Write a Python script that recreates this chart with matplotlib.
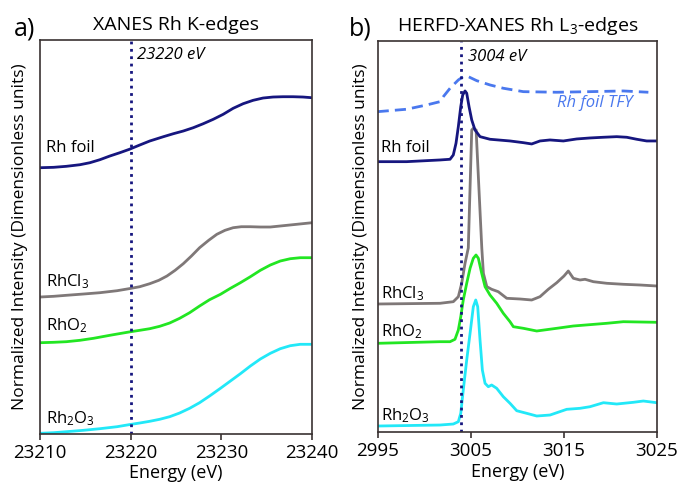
import numpy as np
import matplotlib.pyplot as plt

plt.rcParams['font.family'] = ['Open Sans', 'DejaVu Sans']
plt.rcParams['mathtext.fontset'] = 'custom'
plt.rcParams['mathtext.rm'] = 'Open Sans'
plt.rcParams['mathtext.it'] = 'Open Sans:italic'

# ---- panel a: Rh K-edge XANES (offset intensities, arbitrary units) ----
k_foil_e = [23210, 23211.5, 23212.9, 23214.4, 23215.5, 23216.6, 23217.7, 23218.8, 23219.85,
            23221.0, 23222.1, 23223.6, 23224.7, 23225.8, 23226.9, 23228.0, 23229.1, 23230.2,
            23231.3, 23232.4, 23233.5, 23234.6, 23235.7, 23236.8, 23237.9, 23239.0, 23240]
k_foil_y = [2.663, 2.667, 2.677, 2.693, 2.713, 2.743, 2.780, 2.813, 2.847, 2.890, 2.930, 2.973,
            3.003, 3.030, 3.063, 3.103, 3.147, 3.197, 3.257, 3.303, 3.337, 3.360, 3.370, 3.373,
            3.373, 3.370, 3.363]

k_cl_e = [23210, 23211.5, 23212.9, 23214.8, 23216.6, 23218.5, 23219.8, 23221.0, 23222.1,
          23223.1, 23224.0, 23224.9, 23225.8, 23226.7, 23227.6, 23228.6, 23229.5, 23230.4,
          23231.3, 23232.2, 23233.2, 23234.3, 23235.4, 23236.8, 23238.3, 23240]
k_cl_y = [1.370, 1.377, 1.387, 1.400, 1.413, 1.433, 1.453, 1.473, 1.503, 1.537, 1.580, 1.637,
          1.703, 1.780, 1.863, 1.937, 1.997, 2.037, 2.063, 2.073, 2.073, 2.070, 2.070, 2.083,
          2.097, 2.113]

k_o2_e = [23210, 23211.5, 23212.9, 23214.4, 23215.9, 23217.7, 23219.8, 23221.0, 23222.1,
          23223.2, 23224.3, 23225.4, 23226.5, 23227.6, 23228.7, 23229.9, 23231.0, 23232.1,
          23233.2, 23234.3, 23235.4, 23236.5, 23237.6, 23238.7, 23240]
k_o2_y = [0.913, 0.917, 0.923, 0.937, 0.957, 0.987, 1.020, 1.037, 1.053, 1.077, 1.110, 1.157,
          1.213, 1.280, 1.343, 1.397, 1.457, 1.513, 1.573, 1.637, 1.690, 1.730, 1.753, 1.763, 1.763]

k_o3_e = [23210, 23211.5, 23212.9, 23214.8, 23216.6, 23218.5, 23219.8, 23221.0, 23222.1,
          23223.2, 23224.3, 23225.4, 23226.5, 23227.6, 23228.7, 23229.9, 23231.0, 23232.1,
          23233.2, 23234.3, 23235.4, 23236.5, 23237.6, 23238.7, 23240]
k_o3_y = [0.007, 0.013, 0.023, 0.037, 0.053, 0.073, 0.093, 0.110, 0.127, 0.147, 0.173, 0.210,
          0.257, 0.313, 0.380, 0.457, 0.530, 0.603, 0.680, 0.750, 0.807, 0.853, 0.883, 0.897, 0.897]

# ---- panel b: Rh L3-edge HERFD-XANES ----
tfy_e = [2995, 2998.1, 3000.26, 3001.69, 3002.05, 3002.77, 3003.66, 3004.19, 3004.73, 3005.63,
         3007.06, 3008.49, 3010.64, 3014.23, 3017.80, 3021.38, 3024.07]
tfy_y = [3.203, 3.227, 3.270, 3.303, 3.353, 3.437, 3.520, 3.553, 3.553, 3.513, 3.470, 3.437,
         3.403, 3.397, 3.403, 3.410, 3.397]

l_foil_e = [2995, 2998.1, 3001.69, 3002.77, 3003.12, 3003.41, 3003.66, 3003.92, 3004.13, 3004.38,
            3004.56, 3004.81, 3005.10, 3005.45, 3005.99, 3007.06, 3009.21, 3010.64, 3011.54,
            3012.43, 3013.50, 3014.94, 3016.37, 3017.80, 3019.23, 3020.67, 3021.75, 3022.82,
            3023.89, 3024.97]
l_foil_y = [2.703, 2.703, 2.720, 2.727, 2.770, 2.887, 3.053, 3.253, 3.370, 3.410, 3.387, 3.253,
            3.120, 3.020, 2.953, 2.927, 2.910, 2.893, 2.880, 2.910, 2.920, 2.910, 2.930, 2.940,
            2.947, 2.953, 2.947, 2.927, 2.910, 2.910]

l_cl_e = [2995, 3001.69, 3003.12, 3003.66, 3004.02, 3004.38, 3004.73, 3005.10, 3005.28, 3005.57,
          3006.18, 3006.35, 3006.72, 3007.24, 3007.95, 3008.86, 3010.28, 3011.54, 3012.43,
          3013.32, 3014.23, 3015.01, 3015.47, 3016.01, 3016.73, 3017.27, 3018.16, 3019.60,
          3021.38, 3023.17, 3024.97]
l_cl_y = [1.280, 1.287, 1.303, 1.353, 1.487, 1.687, 1.840, 3.020, 3.037, 3.020, 1.840, 1.587,
          1.453, 1.427, 1.403, 1.337, 1.330, 1.320, 1.353, 1.427, 1.493, 1.560, 1.610, 1.537,
          1.520, 1.527, 1.503, 1.487, 1.477, 1.470, 1.460]

l_o2_e = [2995, 3001.69, 3002.77, 3003.30, 3003.66, 3003.92, 3004.19, 3004.56, 3004.92, 3005.27,
          3005.56, 3005.81, 3006.17, 3006.53, 3007.06, 3007.78, 3008.49, 3009.21, 3009.57,
          3010.64, 3012.08, 3014.23, 3016.01, 3019.60, 3021.38, 3024.97]
l_o2_y = [0.887, 0.903, 0.903, 0.927, 1.020, 1.153, 1.320, 1.487, 1.637, 1.737, 1.770, 1.737,
          1.587, 1.453, 1.370, 1.287, 1.187, 1.103, 1.053, 1.037, 1.010, 1.037, 1.060, 1.087,
          1.103, 1.097]

l_o3_e = [2995, 3001.69, 3003.12, 3003.66, 3003.92, 3004.19, 3004.56, 3004.92, 3005.27, 3005.53,
          3005.74, 3005.99, 3006.24, 3006.53, 3006.88, 3007.24, 3007.78, 3008.49, 3009.21,
          3009.93, 3011.0, 3012.08, 3013.51, 3015.3, 3016.73, 3017.80, 3019.24, 3020.67,
          3022.45, 3023.53, 3024.97]
l_o3_y = [0.060, 0.070, 0.080, 0.103, 0.187, 0.420, 0.720, 0.987, 1.253, 1.320, 1.253, 0.920,
          0.620, 0.487, 0.453, 0.470, 0.437, 0.353, 0.287, 0.213, 0.187, 0.160, 0.170, 0.227,
          0.237, 0.253, 0.293, 0.280, 0.297, 0.310, 0.293]

navy = '#16167f'
gray = '#7f7878'
green = '#22e622'
cyan = '#22e8f8'
tfy_blue = '#4a78ee'
spine_col = '#3a3232'

fig = plt.figure(figsize=(6.77, 4.84), dpi=100)
ax1 = fig.add_axes([0.0591, 0.1033, 0.4018, 0.814])
ax2 = fig.add_axes([0.5579, 0.1074, 0.4126, 0.808])

lw = 2.0
ax1.plot(k_foil_e, k_foil_y, color=navy, lw=lw)
ax1.plot(k_cl_e, k_cl_y, color=gray, lw=lw)
ax1.plot(k_o2_e, k_o2_y, color=green, lw=lw)
ax1.plot(k_o3_e, k_o3_y, color=cyan, lw=lw)
ax1.axvline(23220, color=navy, ls=':', lw=2)
ax1.set_xlim(23210, 23240)
ax1.set_ylim(0, 3.94)
ax1.set_xticks([23210, 23220, 23230, 23240])

ax2.plot(tfy_e, tfy_y, color=tfy_blue, lw=lw, ls=(0, (4, 2.2)))
ax2.plot(l_cl_e, l_cl_y, color=gray, lw=lw)
ax2.plot(l_foil_e, l_foil_y, color=navy, lw=lw)
ax2.plot(l_o2_e, l_o2_y, color=green, lw=lw)
ax2.plot(l_o3_e, l_o3_y, color=cyan, lw=lw)
ax2.axvline(3004, color=navy, ls=':', lw=2)
ax2.set_xlim(2995, 3025)
ax2.set_ylim(0, 3.91)
ax2.set_xticks([2995, 3005, 3015, 3025])

for ax in (ax1, ax2):
    ax.set_yticks([])
    for s in ax.spines.values():
        s.set_color(spine_col)
        s.set_linewidth(1.2)
    ax.tick_params(axis='x', direction='out', length=4, width=1.2, color=spine_col,
                   labelsize=13.5, pad=3)
    ax.set_xlabel('Energy (eV)', fontsize=13)
    ax.set_ylabel('Normalized Intensity (Dimensionless units)', fontsize=12.5)

ax1.xaxis.set_label_coords(0.5, -0.075)
ax2.xaxis.set_label_coords(0.5, -0.08)
ax1.yaxis.set_label_coords(-0.044, 0.5)
ax2.yaxis.set_label_coords(-0.03, 0.5)

ax1.set_title('XANES Rh K-edges', fontsize=14, pad=7)
ax2.set_title('HERFD-XANES Rh L$_3$-edges', fontsize=14, pad=7)
fig.text(0.037, 0.940, 'a)', fontsize=18, ha='center', va='center')
fig.text(0.532, 0.940, 'b)', fontsize=18, ha='center', va='center')

fs = 12
ax1.text(0.357, 0.962, '23220 eV', style='italic', fontsize=fs, transform=ax1.transAxes, va='center')
ax1.text(0.022, 0.726, 'Rh foil', fontsize=fs, transform=ax1.transAxes, va='center')
ax1.text(0.022, 0.386, 'RhCl$_3$', fontsize=fs, transform=ax1.transAxes, va='center')
ax1.text(0.022, 0.274, 'RhO$_2$', fontsize=fs, transform=ax1.transAxes, va='center')
ax1.text(0.022, 0.040, 'Rh$_2$O$_3$', fontsize=fs, transform=ax1.transAxes, va='center')

ax2.text(0.323, 0.959, '3004 eV', style='italic', fontsize=fs, transform=ax2.transAxes, va='center')
ax2.text(0.642, 0.841, 'Rh foil TFY', style='italic', fontsize=fs, color=tfy_blue,
         transform=ax2.transAxes, va='center')
ax2.text(0.011, 0.726, 'Rh foil', fontsize=fs, transform=ax2.transAxes, va='center')
ax2.text(0.011, 0.355, 'RhCl$_3$', fontsize=fs, transform=ax2.transAxes, va='center')
ax2.text(0.011, 0.256, 'RhO$_2$', fontsize=fs, transform=ax2.transAxes, va='center')
ax2.text(0.011, 0.043, 'Rh$_2$O$_3$', fontsize=fs, transform=ax2.transAxes, va='center')

fig.savefig('out.png', dpi=100)
